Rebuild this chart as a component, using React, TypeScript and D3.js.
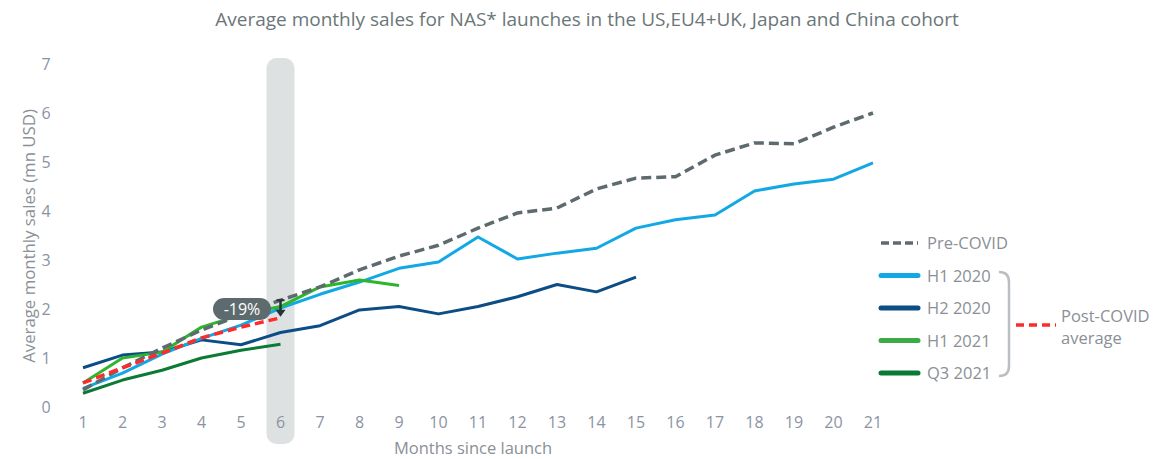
import { useEffect, useRef } from 'react';
import * as d3 from 'd3';

const months = d3.range(1, 22);
const preCovid = [0.35, 0.8, 1.2, 1.57, 1.88, 2.18, 2.45, 2.8, 3.08, 3.3, 3.65, 3.96, 4.06, 4.45, 4.67, 4.7, 5.14, 5.39, 5.37, 5.71, 6.0];
const h12020 = [0.38, 0.69, 1.08, 1.4, 1.67, 2.02, 2.3, 2.55, 2.83, 2.96, 3.47, 3.02, 3.14, 3.24, 3.65, 3.82, 3.92, 4.41, 4.55, 4.65, 4.98];
const h22020 = [0.8, 1.06, 1.12, 1.37, 1.27, 1.52, 1.66, 1.98, 2.05, 1.9, 2.05, 2.25, 2.5, 2.35, 2.65];
const h12021 = [0.49, 1.0, 1.12, 1.63, 1.88, 2.05, 2.45, 2.59, 2.48];
const q32021 = [0.28, 0.55, 0.75, 1.0, 1.16, 1.28];
const postCovidAvg = [0.49, 0.8, 1.1, 1.41, 1.63, 1.82];
const yTicks = [0, 1, 2, 3, 4, 5, 6, 7];
const gapLabel = '-19%';

const series = [
  { name: 'Q3 2021', values: q32021, color: '#0b7a34', dash: null },
  { name: 'H2 2020', values: h22020, color: '#0b4d84', dash: null },
  { name: 'H1 2020', values: h12020, color: '#12a8e4', dash: null },
  { name: 'H1 2021', values: h12021, color: '#2eb52e', dash: null },
  { name: 'Pre-COVID', values: preCovid, color: '#5e6b6e', dash: '10,5' },
  { name: 'Post-COVID average', values: postCovidAvg, color: '#ff2b2b', dash: '9,5' },
];

const legendItems = [
  { name: 'Pre-COVID', color: '#5e6b6e', dash: '8,4' },
  { name: 'H1 2020', color: '#12a8e4', dash: null },
  { name: 'H2 2020', color: '#0b4d84', dash: null },
  { name: 'H1 2021', color: '#3aab45', dash: null },
  { name: 'Q3 2021', color: '#0b7a34', dash: null },
];

const font = '"Open Sans", sans-serif';
const textGray = '#8a9095';

const App = () => {
  const svgRef = useRef(null);

  useEffect(() => {
    const svg = d3.select(svgRef.current);
    svg.selectAll('*').remove();

    const x = d3.scaleLinear().domain([1, 21]).range([83, 873]);
    const y = d3.scaleLinear().domain([0, 7]).range([407, 64]);

    // title
    svg.append('text')
      .attr('x', 587).attr('y', 26)
      .attr('text-anchor', 'middle')
      .attr('font-family', font).attr('font-size', 19)
      .attr('fill', '#6b7679')
      .text('Average monthly sales for NAS* launches in the US,EU4+UK, Japan and China cohort');

    // highlight band at month 6
    svg.append('rect')
      .attr('x', x(6) - 14).attr('y', 58)
      .attr('width', 28).attr('height', 386)
      .attr('rx', 10)
      .attr('fill', '#dee1e2');

    // y ticks
    svg.append('g').selectAll('text').data(yTicks).enter().append('text')
      .attr('x', 46).attr('y', d => y(d) + 6)
      .attr('text-anchor', 'middle')
      .attr('font-family', font).attr('font-size', 16)
      .attr('fill', '#8b93a3')
      .text(d => d);

    // x ticks
    svg.append('g').selectAll('text').data(months).enter().append('text')
      .attr('x', d => x(d)).attr('y', 428)
      .attr('text-anchor', 'middle')
      .attr('font-family', font).attr('font-size', 16)
      .attr('fill', '#8b93a3')
      .text(d => d);

    // axis titles
    svg.append('text')
      .attr('transform', 'translate(35,236) rotate(-90)')
      .attr('text-anchor', 'middle')
      .attr('font-family', font).attr('font-size', 16.8)
      .attr('fill', textGray)
      .text('Average monthly sales (mn USD)');

    svg.append('text')
      .attr('x', 473).attr('y', 454)
      .attr('text-anchor', 'middle')
      .attr('font-family', font).attr('font-size', 16.5)
      .attr('fill', textGray)
      .text('Months since launch');

    // lines
    const line = d3.line<number>()
      .x((d, i) => x(i + 1))
      .y(d => y(d));

    series.forEach(s => {
      svg.append('path')
        .datum(s.values)
        .attr('d', line)
        .attr('fill', 'none')
        .attr('stroke', s.color)
        .attr('stroke-width', s.dash ? 3.5 : 3)
        .attr('stroke-dasharray', s.dash)
        .attr('stroke-linejoin', 'round');
    });

    // -19% annotation
    svg.append('rect')
      .attr('x', 213).attr('y', 298)
      .attr('width', 58).attr('height', 22)
      .attr('rx', 11)
      .attr('fill', '#5e6b6e');
    svg.append('text')
      .attr('x', 242).attr('y', 315)
      .attr('text-anchor', 'middle')
      .attr('font-family', font).attr('font-size', 16)
      .attr('fill', '#ffffff')
      .text(gapLabel);

    const ax = x(6);
    svg.append('line')
      .attr('x1', ax - 4).attr('x2', ax + 4)
      .attr('y1', y(preCovid[5])).attr('y2', y(preCovid[5]))
      .attr('stroke', '#263338').attr('stroke-width', 2);
    svg.append('line')
      .attr('x1', ax).attr('x2', ax)
      .attr('y1', y(preCovid[5])).attr('y2', y(postCovidAvg[5]) - 6)
      .attr('stroke', '#263338').attr('stroke-width', 2.5);
    svg.append('path')
      .attr('d', `M${ax - 5},${y(postCovidAvg[5]) - 8}L${ax + 5},${y(postCovidAvg[5]) - 8}L${ax},${y(postCovidAvg[5]) - 1}Z`)
      .attr('fill', '#263338');

    // legend
    const lg = svg.append('g');
    legendItems.forEach((d, i) => {
      const ly = 243 + i * 32.5;
      lg.append('line')
        .attr('x1', 881).attr('x2', 918)
        .attr('y1', ly).attr('y2', ly)
        .attr('stroke', d.color)
        .attr('stroke-width', d.dash ? 3.5 : 5)
        .attr('stroke-linecap', d.dash ? 'butt' : 'round')
        .attr('stroke-dasharray', d.dash);
      lg.append('text')
        .attr('x', 927).attr('y', ly + 6)
        .attr('font-family', font).attr('font-size', 16.5)
        .attr('fill', textGray)
        .text(d.name);
    });

    // bracket
    lg.append('path')
      .attr('d', 'M999,272 Q1009,272 1009,282 L1009,366 Q1009,376 999,376')
      .attr('fill', 'none')
      .attr('stroke', '#b9bec2')
      .attr('stroke-width', 2.5);

    lg.append('line')
      .attr('x1', 1016).attr('x2', 1056)
      .attr('y1', 325).attr('y2', 325)
      .attr('stroke', '#ff2b2b')
      .attr('stroke-width', 3.5)
      .attr('stroke-dasharray', '8,5');
    lg.append('text')
      .attr('x', 1061).attr('y', 322)
      .attr('font-family', font).attr('font-size', 16.5)
      .attr('fill', textGray)
      .text('Post-COVID');
    lg.append('text')
      .attr('x', 1061).attr('y', 344)
      .attr('font-family', font).attr('font-size', 16.5)
      .attr('fill', textGray)
      .text('average');
  }, []);

  return (
    <svg ref={svgRef} width={1155} height={459} style={{ position: 'absolute', left: 0, top: 0 }} />
  );
};

export default App;
